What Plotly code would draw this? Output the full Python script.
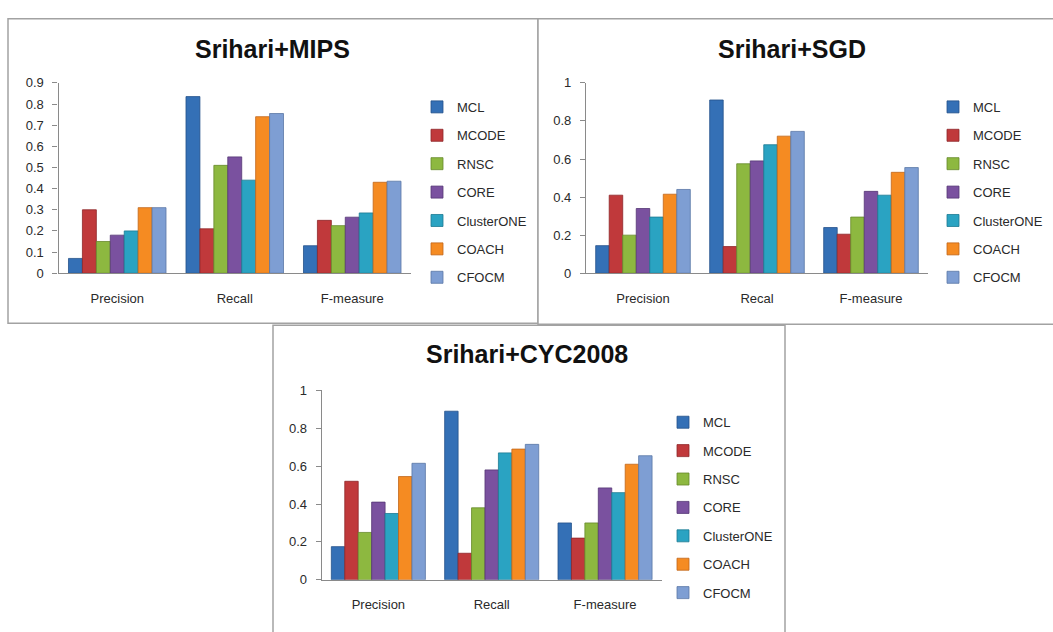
import plotly.graph_objects as go

W, H = 1053, 632

methods = ["MCL", "MCODE", "RNSC", "CORE", "ClusterONE", "COACH", "CFOCM"]
colors = ["#3470B6", "#C0393B", "#8DB840", "#7A519F", "#2AA3C2", "#F58B22", "#7E9ED3"]
edge_colors = ["#24528A", "#8E2628", "#66892B", "#563775", "#1C7A92", "#C0661A", "#5A77A6"]

# Srihari+MIPS
mips_categories = ["Precision", "Recall", "F-measure"]
mips_precision = [0.07, 0.30, 0.15, 0.18, 0.20, 0.31, 0.31]
mips_recall = [0.835, 0.21, 0.51, 0.55, 0.44, 0.74, 0.755]
mips_fmeasure = [0.13, 0.25, 0.225, 0.265, 0.285, 0.43, 0.435]

# Srihari+SGD
sgd_categories = ["Precision", "Recal", "F-measure"]
sgd_precision = [0.145, 0.41, 0.20, 0.34, 0.295, 0.415, 0.44]
sgd_recall = [0.91, 0.14, 0.575, 0.59, 0.675, 0.72, 0.745]
sgd_fmeasure = [0.24, 0.205, 0.295, 0.43, 0.41, 0.53, 0.555]

# Srihari+CYC2008
cyc_categories = ["Precision", "Recall", "F-measure"]
cyc_precision = [0.175, 0.52, 0.25, 0.41, 0.35, 0.545, 0.615]
cyc_recall = [0.89, 0.14, 0.38, 0.58, 0.67, 0.69, 0.715]
cyc_fmeasure = [0.30, 0.22, 0.30, 0.485, 0.46, 0.61, 0.655]

panels = [
    dict(title="Srihari+MIPS", cats=mips_categories,
         vals=[mips_precision, mips_recall, mips_fmeasure],
         xs=(58.5, 411), y0=272.7, y1=77.7, ymax=0.9, dtick=0.1,
         title_xy=(272, 43), legend_xy=(417, 87)),
    dict(title="Srihari+SGD", cats=sgd_categories,
         vals=[sgd_precision, sgd_recall, sgd_fmeasure],
         xs=(586, 928), y0=272.7, y1=77.7, ymax=1.0, dtick=0.2,
         title_xy=(792, 43), legend_xy=(933, 87)),
    dict(title="Srihari+CYC2008", cats=cyc_categories,
         vals=[cyc_precision, cyc_recall, cyc_fmeasure],
         xs=(321.7, 661.7), y0=586.7, y1=392.7, ymax=1.0, dtick=0.2,
         title_xy=(527, 355), legend_xy=(663, 410)),
]


def px_x(v):
    return v / W


def px_y(v):
    return 1 - v / H


fig = go.Figure()
layout = dict(
    width=W, height=H, margin=dict(l=0, r=0, t=0, b=0),
    paper_bgcolor="white", plot_bgcolor="white",
    barmode="group", bargap=0.17, bargroupgap=0.0,
    font=dict(family="Liberation Sans, Arial, sans-serif", color="#2a2a2a", size=13),
    annotations=[], shapes=[],
)

axis_line = "#8a8a8a"
legend_names = ["legend", "legend2", "legend3"]

for k, p in enumerate(panels):
    suffix = "" if k == 0 else str(k + 1)
    xa, ya = "x" + suffix, "y" + suffix
    for i, m in enumerate(methods):
        fig.add_trace(go.Bar(
            x=p["cats"],
            y=[p["vals"][0][i], p["vals"][1][i], p["vals"][2][i]],
            name=m, xaxis=xa, yaxis=ya,
            legend=legend_names[k], legendgroup=f"{k}-{m}",
            marker=dict(color=colors[i], line=dict(color=edge_colors[i], width=0.8)),
        ))
    layout["xaxis" + suffix] = dict(
        domain=[px_x(p["xs"][0]), px_x(p["xs"][1])], anchor=ya,
        showline=True, linecolor=axis_line, linewidth=1.2,
        showgrid=False, zeroline=False, ticks="",
        ticklabelstandoff=13, tickfont=dict(size=13, color="#2a2a2a"),
        fixedrange=True,
    )
    layout["yaxis" + suffix] = dict(
        domain=[px_y(p["y0"]), px_y(p["y1"])], anchor=xa,
        range=[0, p["ymax"]], dtick=p["dtick"], tick0=0,
        showline=True, linecolor=axis_line, linewidth=1.2,
        showgrid=False, zeroline=False,
        ticks="outside", ticklen=5, tickcolor=axis_line,
        ticklabelstandoff=6, tickfont=dict(size=13, color="#2a2a2a"),
        fixedrange=True,
    )
    layout[legend_names[k]] = dict(
        x=px_x(p["legend_xy"][0]), y=px_y(p["legend_xy"][1]),
        xanchor="left", yanchor="top",
        traceorder="grouped", tracegroupgap=8.5,
        bgcolor="rgba(0,0,0,0)", borderwidth=0,
        font=dict(size=13, color="#2a2a2a"),
    )
    layout["annotations"].append(dict(
        text=f"<b>{p['title']}</b>", xref="paper", yref="paper",
        x=px_x(p["title_xy"][0]), y=px_y(p["title_xy"][1]),
        xanchor="center", yanchor="middle", showarrow=False,
        font=dict(size=25, color="#111111"),
    ))

# panel frames
frame = dict(color="#a2a2a2", width=1.5)
layout["shapes"] = [
    dict(type="rect", xref="paper", yref="paper", layer="below",
         x0=px_x(8), x1=px_x(538), y0=px_y(324), y1=px_y(12),
         line=frame, fillcolor="white"),
    dict(type="rect", xref="paper", yref="paper", layer="below",
         x0=px_x(538), x1=px_x(1070), y0=px_y(325), y1=px_y(12),
         line=frame, fillcolor="white"),
    dict(type="rect", xref="paper", yref="paper", layer="below",
         x0=px_x(273), x1=px_x(785), y0=px_y(650), y1=px_y(326),
         line=frame, fillcolor="white"),
]

fig.update_layout(**layout)
fig.write_html("out.html", config={"displayModeBar": False})
